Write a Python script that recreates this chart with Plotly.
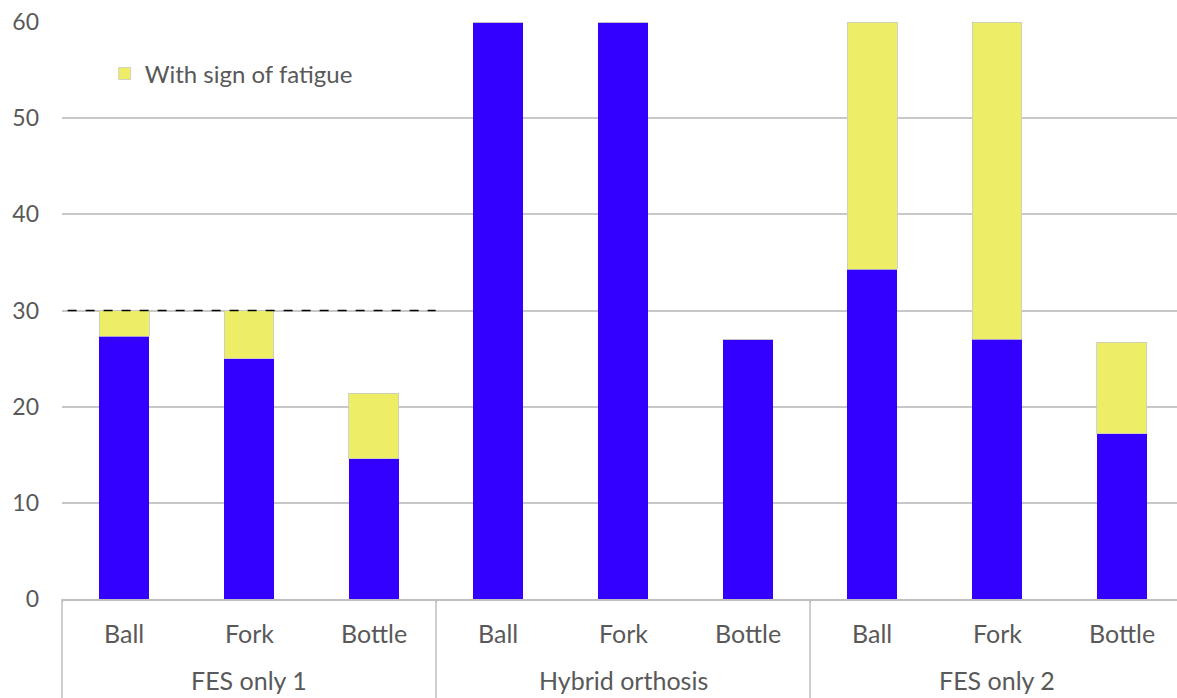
import plotly.graph_objects as go

groups = ["FES only 1"] * 3 + ["Hybrid orthosis"] * 3 + ["FES only 2"] * 3
items = ["Ball", "Fork", "Bottle"] * 3
group_names = ["FES only 1", "Hybrid orthosis", "FES only 2"]
no_fatigue = [27.3, 25.0, 14.6, 60.0, 60.0, 27.0, 34.3, 27.0, 17.2]
with_fatigue = [2.7, 5.0, 6.8, 0.0, 0.0, 0.0, 25.7, 33.0, 9.5]
threshold = 30

font_family = "Lato, 'Open Sans', sans-serif"
gray = "#595959"
line_gray = "#BFBFBF"

fig = go.Figure()
fig.add_trace(go.Bar(x=[groups, items], y=no_fatigue, marker=dict(color="#3300FF", line=dict(width=0)),
                     name="Without sign of fatigue", showlegend=False))
fig.add_trace(go.Bar(x=[groups, items], y=with_fatigue, marker=dict(color="#EEEE66", line=dict(color="#C8C8C8", width=0.8)),
                     name="With sign of fatigue", showlegend=True))

fig.add_shape(type="line", xref="paper", yref="y", x0=0.005, x1=0.333, y0=threshold, y1=threshold,
              line=dict(color="black", width=1.5, dash="dash"))

# multicategory labels and dividers below the axis
n = len(items)
ng = len(group_names)
for i, lab in enumerate(items):
    fig.add_annotation(text=lab, xref="paper", yref="paper", x=(i + 0.5) / n, y=-0.059,
                       showarrow=False, xanchor="center", yanchor="middle",
                       font=dict(size=25, color=gray, family=font_family))
for g, lab in enumerate(group_names):
    fig.add_annotation(text=lab, xref="paper", yref="paper", x=(g + 0.5) / ng, y=-0.141,
                       showarrow=False, xanchor="center", yanchor="middle",
                       font=dict(size=25, color=gray, family=font_family))
for g in range(ng + 1):
    fig.add_shape(type="line", xref="paper", yref="paper", x0=g / ng, x1=g / ng, y0=0, y1=-0.2,
                  line=dict(color=line_gray, width=1.5))

fig.update_layout(
    barmode="stack",
    bargap=0.6,
    width=1184, height=698,
    margin=dict(l=62, r=0, t=22, b=99),
    plot_bgcolor="white", paper_bgcolor="white",
    font=dict(family=font_family, size=24, color=gray),
    legend=dict(x=0.038, y=0.91, xanchor="left", yanchor="middle", bgcolor="rgba(0,0,0,0)",
                font=dict(size=24, color=gray)),
    xaxis=dict(showgrid=False, showline=True, linecolor=line_gray, linewidth=1.5,
               showticklabels=False, ticks=""),
    yaxis=dict(range=[0, 60], dtick=10, showgrid=True, gridcolor="#C8C8C8", gridwidth=1.5,
               zeroline=False, showline=False, tickfont=dict(size=23, color=gray),
               ticklabelstandoff=22, ticklabeloverflow="allow"),
)

fig.write_html("out.html",
               config={"displayModeBar": False},
               post_script="document.body.style.margin='0';document.body.style.overflow='hidden';"
                           "document.documentElement.style.overflow='hidden';")
